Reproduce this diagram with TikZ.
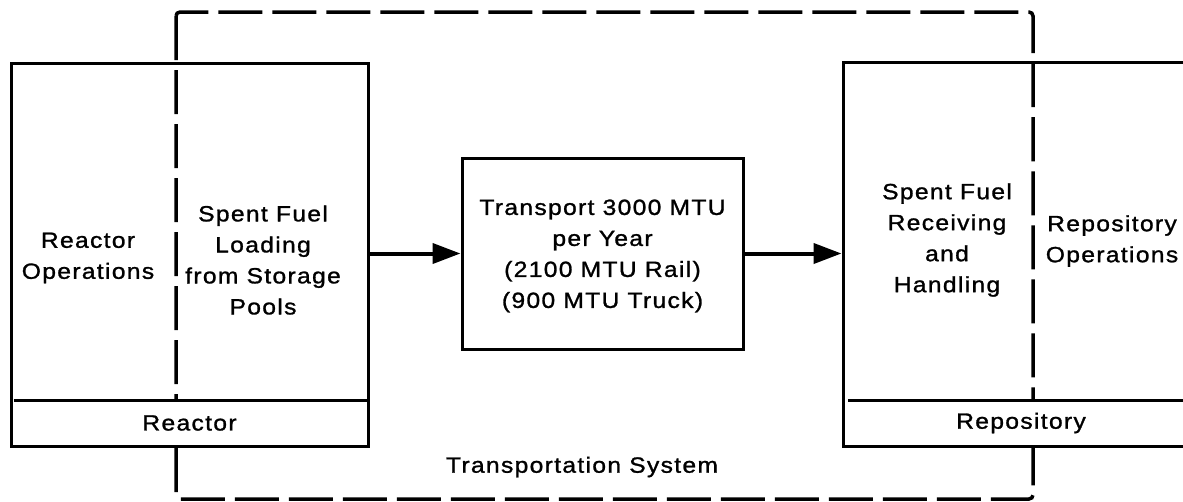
\documentclass[tikz,border=0pt]{standalone}
\usepackage{fontspec}
\setmainfont{Liberation Sans}[FakeStretch=1.12, LetterSpace=6, FakeBold=1.2]
\usetikzlibrary{arrows.meta}

\begin{document}
\begin{tikzpicture}[x=1pt, y=-1pt,
    every node/.style={font=\fontsize{22}{31}\selectfont, inner sep=0pt},
    box/.style={draw, line width=3pt, rectangle},
    labelrow/.style={fill=white, rectangle},
    boundary/.style={line width=3.5pt, dash pattern=on 44pt off 10pt, rounded corners=4pt},
    divider/.style={line width=3pt},
    flow/.style={line width=4pt, -{Triangle[length=28pt, width=20pt]}},
    txt/.style={align=center}]

  \useasboundingbox (0,0) rectangle (1183,501);

  % transportation system boundary
  \draw[boundary] (176,12) rectangle (1033,499);

  % reactor block
  \node[box, minimum width=357pt, minimum height=383pt] (rbox) at (189.5,254.5) {};
  \node[labelrow, minimum width=352pt, minimum height=44pt] (rrow) at (189.5,423) {Reactor};
  \draw[divider] (rbox.west |- 0,400) ++(4,0) coordinate (rd1) -- (rbox.east |- 0,400) ++(-8,0) coordinate (rd2);
  \node[txt] (rops) at (88,258) {Reactor\\Operations};
  \node[txt] (rload) at (263,260) {Spent Fuel\\Loading\\from Storage\\Pools};

  % transport block
  \node[box, minimum width=281pt, minimum height=191pt] (tbox) at (602.5,253.5) {};
  \node[txt] (ttxt) at (602.5,256) {Transport 3000 MTU\\per Year\\(2100 MTU Rail)\\(900 MTU Truck)};

  % repository block
  \node[box, minimum width=356pt, minimum height=384pt] (pbox) at (1021,254) {};
  \node[labelrow, minimum width=350pt, minimum height=44pt] (prow) at (1021,423) {Repository};
  \draw[divider] (848,400) -- (1199,400);
  \node[txt] (precv) at (947,240) {Spent Fuel\\Receiving\\and\\Handling};
  \node[txt] (pops) at (1112,241) {Repository\\Operations};

  % system label
  \node (sys) at (582,467) {Transportation System};

  % flow of spent fuel
  \draw[flow] (tbox.west -| rbox.east) -- (tbox.west);
  \draw[flow] (tbox.east) -- (tbox.east -| pbox.west);
\end{tikzpicture}
\end{document}
